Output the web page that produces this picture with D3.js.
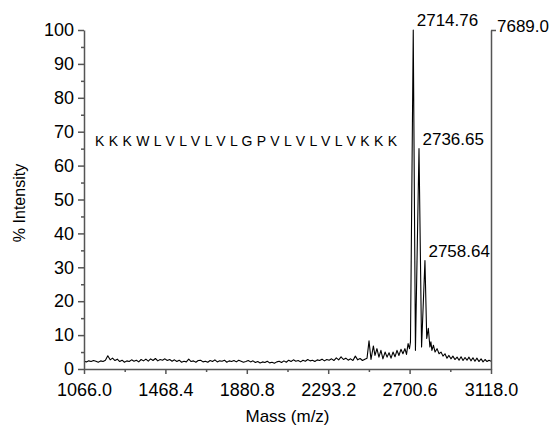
<!DOCTYPE html>
<html><head><meta charset="utf-8">
<script src="https://cdn.jsdelivr.net/npm/d3@7"></script>
<style>body{margin:0;background:#fff}svg{display:block}text{font-family:"Liberation Sans",Arial,Helvetica,sans-serif;fill:#000}</style>
</head><body><svg id="c" width="550" height="427"></svg>
<script>
// ---- data ----
const massValues = [1066,1078,1090,1102,1114,1126,1138,1150,1162,1174,1186,1198,1210,1222,1234,1246,1258,1270,1282,1294,1306,1318,1330,1342,1354,1366,1378,1390,1402,1414,1426,1438,1450,1462,1474,1486,1498,1510,1522,1534,1546,1558,1570,1582,1594,1606,1618,1630,1642,1654,1666,1678,1690,1702,1714,1726,1738,1750,1762,1774,1786,1798,1810,1822,1834,1846,1858,1870,1882,1894,1906,1918,1930,1942,1954,1966,1978,1990,2002,2014,2026,2038,2050,2062,2074,2086,2098,2110,2122,2134,2146,2158,2170,2182,2194,2206,2218,2230,2242,2254,2266,2278,2290,2302,2314,2326,2338,2350,2362,2374,2386,2398,2410,2422,2434,2446,2458,2470,2482,
2493,2503,2513,2525,2533,2543,2553,2563,2573,2584,2594,2604,2614,2624,2634,2644,2654,2664,2674,2684,2692,2700,2707,2712,2726,2737,2755,2768,2785,2794,2802,2810,2815,2820,2828,2836,2846,2856,2866,2876,2886,2896,2906,2916,2926,2936,2947,2957,2967,2977,2987,2997,3007,3017,3027,3037,3047,3057,3068,3078,3088,3098,3108,3118];
const intensityValues = [2.3,2.1,2.4,2.2,2.5,2.3,2.0,2.4,2.2,2.6,3.9,2.7,3.2,2.5,2.9,2.2,2.6,2.0,2.4,2.2,2.7,2.3,2.6,2.1,2.8,2.4,2.9,2.3,3.0,2.5,3.1,2.4,2.8,2.6,3.0,2.5,2.8,2.3,2.7,2.2,2.6,2.0,2.3,2.1,2.9,2.2,2.4,2.0,2.5,2.6,2.1,2.3,2.0,2.5,2.2,2.7,2.1,2.4,2.3,2.6,2.0,2.4,2.2,2.5,2.1,2.6,2.3,2.0,2.2,2.5,2.1,2.4,1.9,2.2,1.8,2.1,1.9,2.3,1.8,2.0,1.7,2.1,2.3,1.9,2.4,2.0,2.6,2.2,2.7,2.3,2.5,2.1,2.6,2.3,2.8,2.4,2.6,2.2,2.7,2.5,2.9,2.4,2.8,2.6,3.0,2.5,3.3,2.7,3.6,2.8,3.2,2.6,3.0,2.5,3.8,2.7,3.1,2.5,2.9,
3.2,8.3,2.8,6.8,4.0,6.0,3.5,5.5,3.0,5.0,3.5,4.8,3.2,5.0,3.6,5.5,4.0,5.8,4.5,6.0,4.3,7.5,6.0,8.0,100,5.5,65,6.5,32,9.0,12,6.5,8.0,5.5,7.0,5.0,6.0,4.5,5.0,3.8,4.5,3.2,4.0,3.0,3.8,2.8,3.5,2.6,3.6,2.5,3.4,2.6,3.5,2.4,3.3,2.3,3.2,2.2,3.0,2.1,2.8,2.2,2.6,2.3];
const yTickValues = [0,10,20,30,40,50,60,70,80,90,100];
const yMinorValues = [5,15,25,35,45,55,65,75,85,95];
const xTickLabels = ["1066.0","1468.4","1880.8","2293.2","2700.6","3118.0"];
const xTickValues = [1066,1476.4,1886.8,2297.2,2707.6,3118];
const xMinorValues = [1271.2,1681.6,2092,2502.4,2912.8];
const peakMass = [2726,2755,2785];
const peakLabels = ["2714.76","2736.65","2758.64"];
const rightAxisLabel = "7689.0";
const sequenceText = "K K K W L V L V L V L G P V L V L V L V K K K";

const svg = d3.select("#c");
const x = d3.scaleLinear().domain([1066,3118]).range([84,491]);
const y = d3.scaleLinear().domain([0,100]).range([369,30]);
const axisColor = "#555";

// spectrum
const pts = massValues.map((m,i)=>[m,intensityValues[i]]);
svg.append("path").datum(pts)
  .attr("fill","none").attr("stroke","#000").attr("stroke-width",1.1).attr("stroke-linejoin","round")
  .attr("d", d3.line().x(d=>x(d[0])).y(d=>y(d[1])));

// left axis
const gl = svg.append("g").attr("transform","translate(84,0)");
gl.call(d3.axisLeft(y).tickValues(yTickValues).tickSize(6).tickSizeOuter(0).tickPadding(4).tickFormat(d3.format("d")));
gl.append("g").call(d3.axisLeft(y).tickValues(yMinorValues).tickSize(3).tickFormat("")).select(".domain").remove();
gl.selectAll("text").attr("font-size",18).attr("font-family","'Liberation Sans',Arial,sans-serif").attr("fill","#000");

// bottom axis
const gb = svg.append("g").attr("transform","translate(0,369)");
gb.call(d3.axisBottom(x).tickValues(xTickValues).tickSize(5).tickSizeOuter(0).tickPadding(9).tickFormat((d,i)=>xTickLabels[i]));
gb.append("g").call(d3.axisBottom(x).tickValues(xMinorValues).tickSize(3).tickFormat("")).select(".domain").remove();
gb.selectAll("text").attr("font-size",18).attr("font-family","'Liberation Sans',Arial,sans-serif").attr("fill","#000");

// right axis
const gr = svg.append("g").attr("transform","translate(491,0)");
gr.call(d3.axisRight(y).tickValues([100]).tickSize(5).tickSizeOuter(0).tickPadding(1).tickFormat(()=>rightAxisLabel));
gr.selectAll("text").attr("font-size",17).attr("dy","0.1em").attr("font-family","'Liberation Sans',Arial,sans-serif").attr("fill","#000");

svg.selectAll(".domain, .tick line").attr("stroke",axisColor).attr("stroke-width",1.5);

// peak labels
svg.selectAll("text.peak").data(peakMass).enter().append("text").attr("class","peak")
  .attr("x",d=>x(d)+3.5)
  .attr("y",d=>y(intensityValues[massValues.indexOf(d)])-4)
  .attr("font-size",17).text((d,i)=>peakLabels[i]);

// sequence
svg.append("text").attr("x",95).attr("y",146).attr("font-size",14)
  .attr("textLength",302).attr("lengthAdjust","spacing").text(sequenceText);

// titles
svg.append("text").attr("transform","translate(25,203) rotate(-90)").attr("text-anchor","middle")
  .attr("font-size",16).text("% Intensity");
svg.append("text").attr("x",287.5).attr("y",422).attr("text-anchor","middle")
  .attr("font-size",17).text("Mass (m/z)");
</script></body></html>
